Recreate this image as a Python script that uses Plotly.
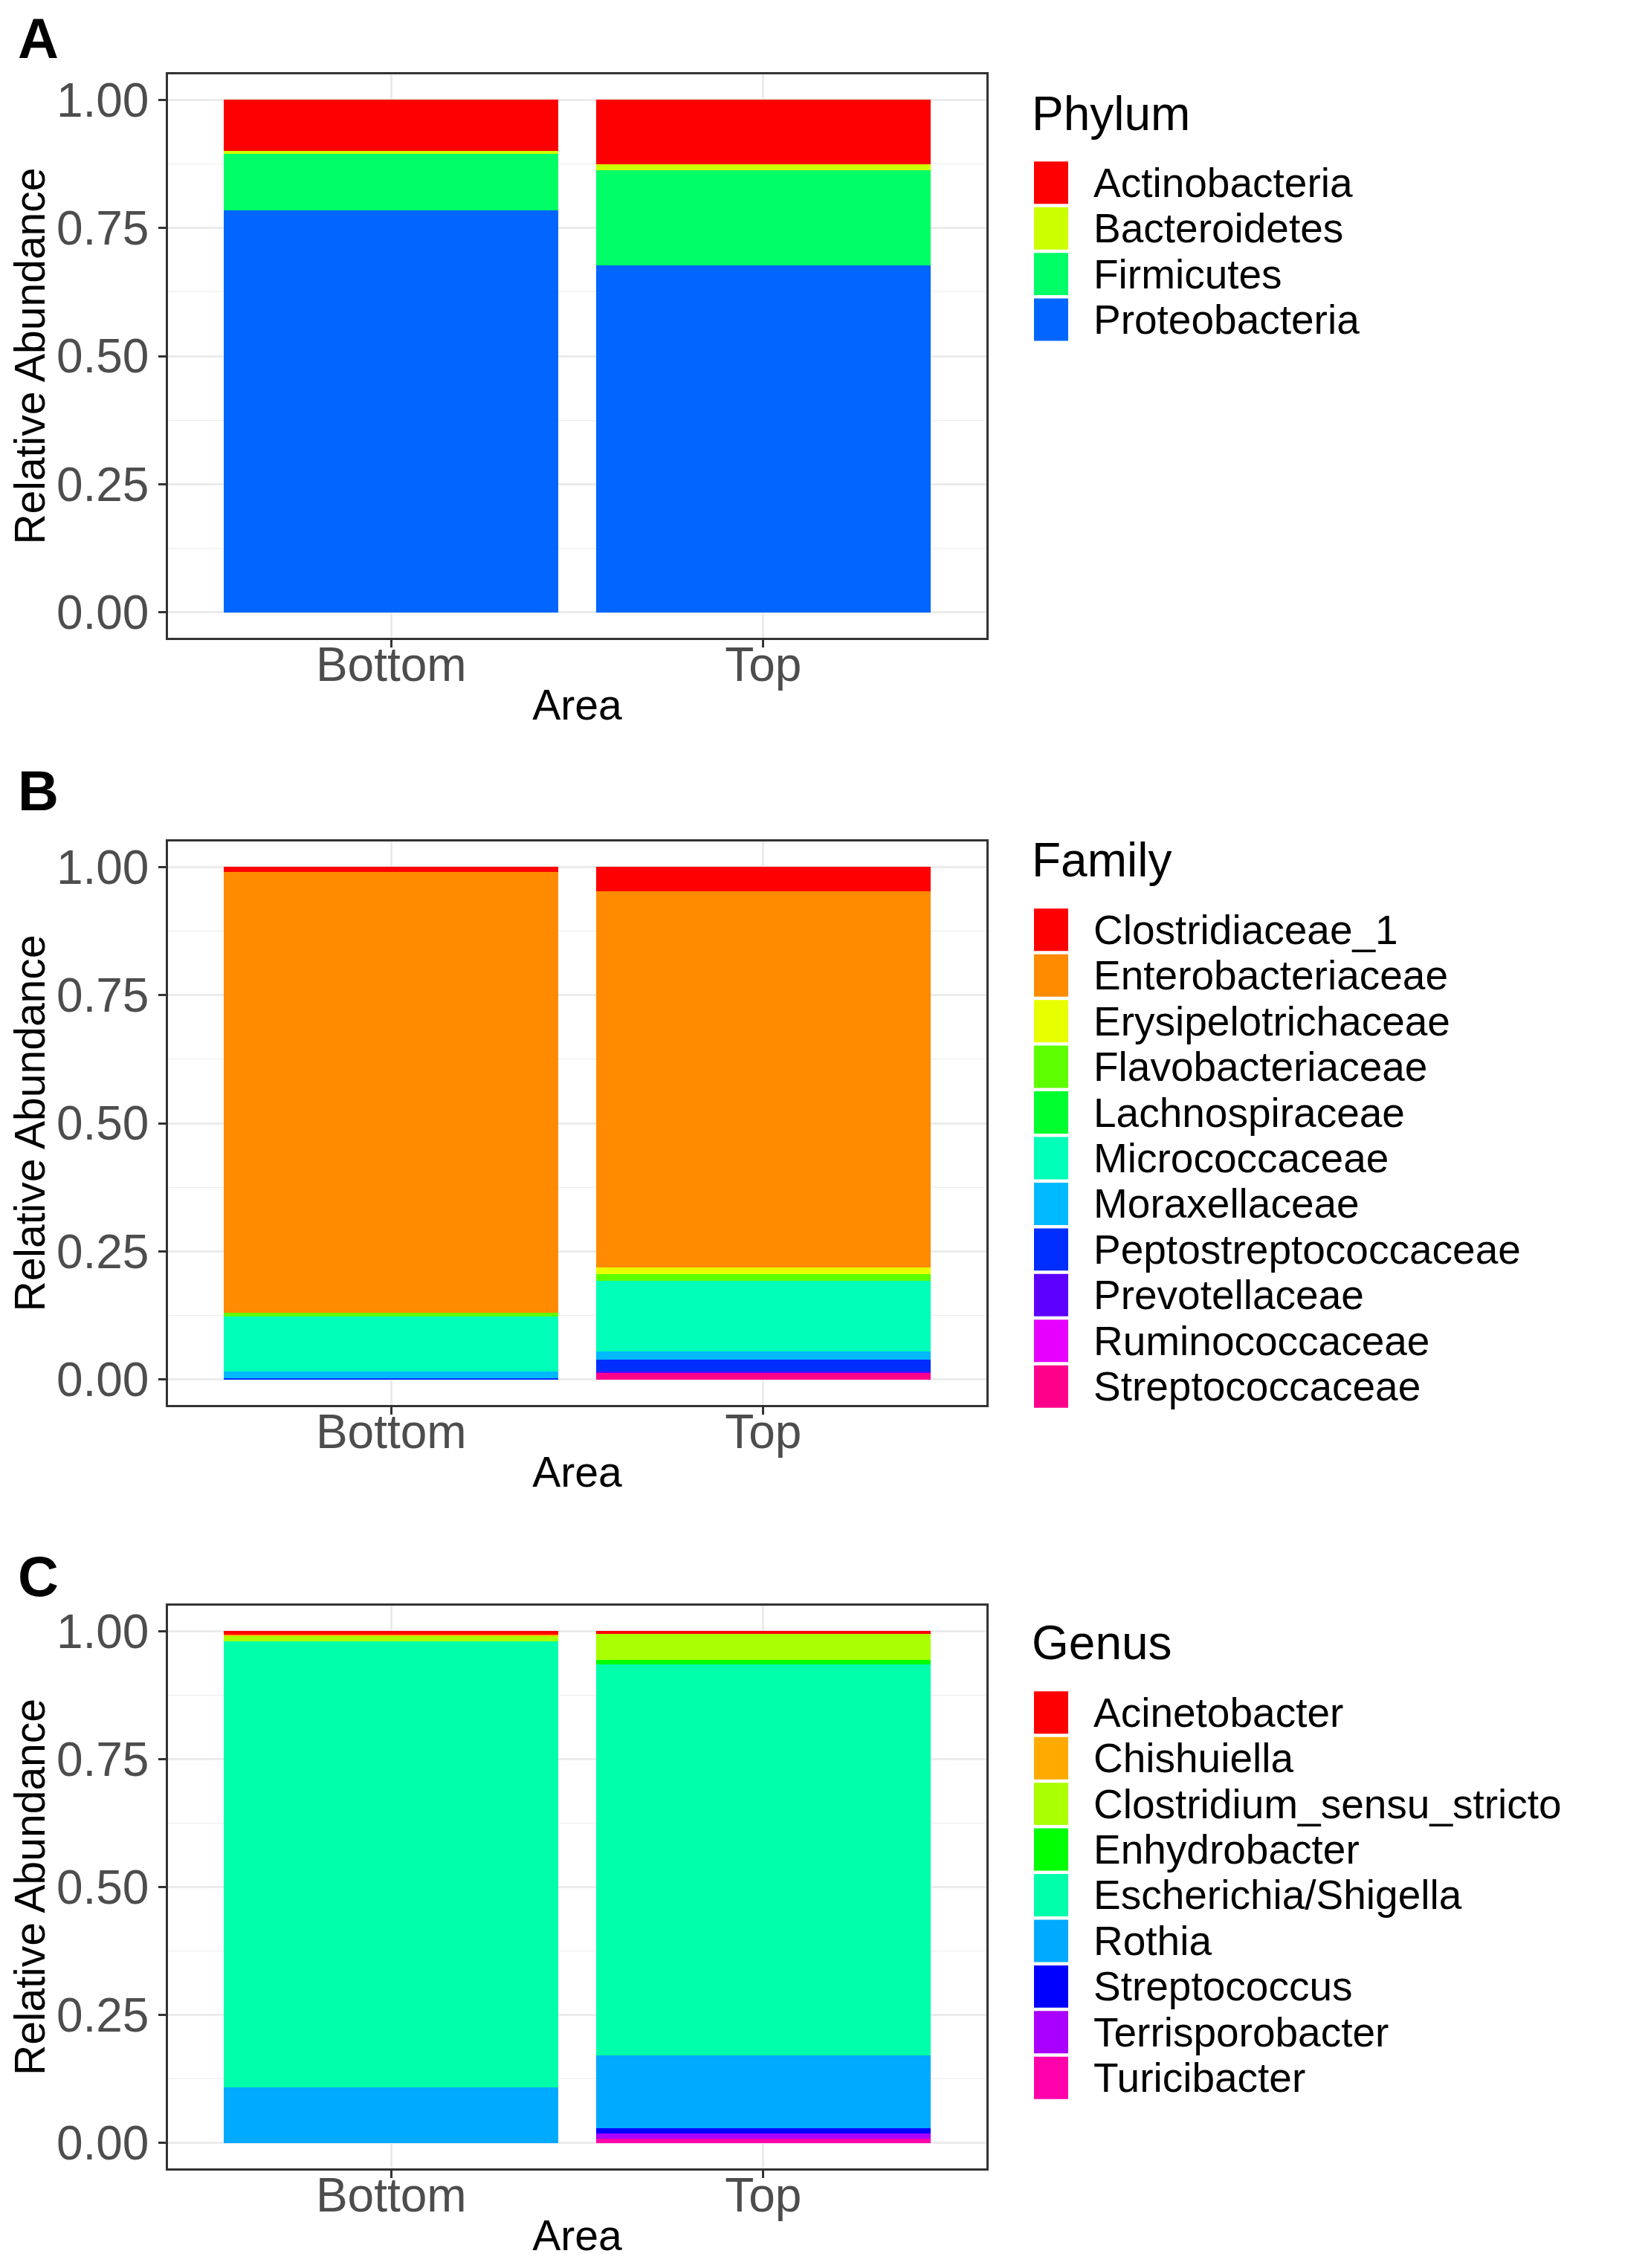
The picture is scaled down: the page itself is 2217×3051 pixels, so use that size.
import plotly.graph_objects as go

# ---------------- data ----------------
areas = ["Bottom", "Top"]

phylum_names = ["Actinobacteria", "Bacteroidetes", "Firmicutes", "Proteobacteria"]
phylum_bottom = [0.100, 0.006, 0.110, 0.784]
phylum_top = [0.125, 0.012, 0.186, 0.677]
phylum_colors = ["#FF0000", "#CCFF00", "#00FF66", "#0066FF"]

family_names = ["Clostridiaceae_1", "Enterobacteriaceae", "Erysipelotrichaceae",
                "Flavobacteriaceae", "Lachnospiraceae", "Micrococcaceae",
                "Moraxellaceae", "Peptostreptococcaceae", "Prevotellaceae",
                "Ruminococcaceae", "Streptococcaceae"]
family_bottom = [0.010, 0.860, 0.000, 0.007, 0.000, 0.107, 0.013, 0.003, 0.000, 0.000, 0.000]
family_top = [0.047, 0.734, 0.013, 0.013, 0.000, 0.138, 0.017, 0.022, 0.003, 0.000, 0.013]
family_colors = ["#FF0000", "#FF8B00", "#E8FF00", "#5DFF00", "#00FF2E", "#00FFB9",
                 "#00B9FF", "#002EFF", "#5D00FF", "#E800FF", "#FF008B"]

genus_names = ["Acinetobacter", "Chishuiella", "Clostridium_sensu_stricto", "Enhydrobacter",
               "Escherichia/Shigella", "Rothia", "Streptococcus", "Terrisporobacter",
               "Turicibacter"]
genus_bottom = [0.007, 0.003, 0.010, 0.000, 0.872, 0.108, 0.000, 0.000, 0.000]
genus_top = [0.005, 0.000, 0.051, 0.009, 0.764, 0.142, 0.010, 0.010, 0.009]
genus_colors = ["#FF0000", "#FFAA00", "#AAFF00", "#00FF00", "#00FFAA", "#00AAFF",
                "#0000FF", "#AA00FF", "#FF00AA"]

y_ticks = [0, 0.25, 0.5, 0.75, 1.0]
y_ticklabels = ["0.00", "0.25", "0.50", "0.75", "1.00"]

panels = [
    ("A", "Phylum", phylum_names, phylum_bottom, phylum_top, phylum_colors),
    ("B", "Family", family_names, family_bottom, family_top, family_colors),
    ("C", "Genus", genus_names, genus_bottom, genus_top, genus_colors),
]

# ---------------- layout helpers ----------------
W, H = 2217, 3051
FONT = "Liberation Sans, Arial, sans-serif"


def px(x):
    return x / W


def py(y):
    return 1 - y / H


frame_x = (218, 1319)
frame_y = [(91, 850), (1124, 1883), (2153, 2911)]
letter_y = [43, 1056, 2114]
legend_title_y = [144, 1149, 2203]
legend_first_y = [237, 1243, 2297]
row_step = 61.5

fig = go.Figure()
shapes = []
annotations = []
layout_axes = {}

for i, (letter, title, names, bottom, top, colors) in enumerate(panels):
    n = i + 1
    xa = "x" if n == 1 else f"x{n}"
    ya = "y" if n == 1 else f"y{n}"
    # ggplot stacks the first level on top -> add in reverse order
    for name, b, t, c in reversed(list(zip(names, bottom, top, colors))):
        fig.add_trace(go.Bar(
            x=areas, y=[b, t], name=name, marker=dict(color=c, line=dict(width=0)),
            xaxis=xa, yaxis=ya, showlegend=False,
            hovertemplate=f"{name}<br>%{{x}}: %{{y:.3f}}<extra></extra>",
        ))

    y0, y1 = frame_y[i]
    layout_axes["xaxis" if n == 1 else f"xaxis{n}"] = dict(
        domain=[px(frame_x[0]), px(frame_x[1])], anchor=ya,
        type="category", range=[-0.6, 1.6],
        showgrid=True, gridcolor="#EBEBEB", gridwidth=2.5,
        showline=True, mirror=True, linecolor="#333333", linewidth=2.5,
        ticks="outside", ticklen=10, tickwidth=2.5, tickcolor="#333333",
        ticklabelstandoff=-32,
        tickfont=dict(family=FONT, size=64, color="#4D4D4D"),
        title=dict(text="Area", font=dict(family=FONT, size=57, color="#000000"), standoff=0),
        zeroline=False, fixedrange=True,
    )
    layout_axes["yaxis" if n == 1 else f"yaxis{n}"] = dict(
        domain=[py(y1), py(y0)], anchor=xa,
        range=[-0.05, 1.05],
        tickvals=y_ticks, ticktext=y_ticklabels,
        showgrid=True, gridcolor="#EBEBEB", gridwidth=2.5,
        minor=dict(dtick=0.125, tick0=0, showgrid=True, gridcolor="#EBEBEB", gridwidth=1.3, ticks=""),
        showline=True, mirror=True, linecolor="#333333", linewidth=2.5,
        ticks="outside", ticklen=10, tickwidth=2.5, tickcolor="#333333",
        tickfont=dict(family=FONT, size=64, color="#4D4D4D"),
        title=dict(text="Relative Abundance", font=dict(family=FONT, size=57, color="#000000"), standoff=18),
        zeroline=False, fixedrange=True,
    )

    # panel letter
    annotations.append(dict(
        text=f"<b>{letter}</b>", x=px(14), y=py(letter_y[i]), xref="paper", yref="paper",
        xanchor="left", yanchor="middle", showarrow=False,
        font=dict(family=FONT, size=76, color="#000000"),
    ))
    # legend title
    annotations.append(dict(
        text=title, x=px(1378), y=py(legend_title_y[i]), xref="paper", yref="paper",
        xanchor="left", yanchor="middle", showarrow=False,
        font=dict(family=FONT, size=64, color="#000000"),
    ))
    # legend keys and labels
    for k, (name, c) in enumerate(zip(names, colors)):
        cy = legend_first_y[i] + k * row_step
        shapes.append(dict(
            type="rect", xref="paper", yref="paper",
            x0=px(1383), x1=px(1429), y0=py(cy + 28.5), y1=py(cy - 28.5),
            fillcolor=c, line=dict(width=0),
        ))
        annotations.append(dict(
            text=name, x=px(1462), y=py(cy), xref="paper", yref="paper",
            xanchor="left", yanchor="middle", showarrow=False, borderpad=0,
            font=dict(family=FONT, size=55, color="#000000"),
        ))

fig.update_layout(
    width=W, height=H,
    margin=dict(l=0, r=0, t=0, b=0),
    paper_bgcolor="#FFFFFF", plot_bgcolor="#FFFFFF",
    barmode="stack", bargap=0.1,
    showlegend=False,
    shapes=shapes, annotations=annotations,
    font=dict(family=FONT),
    **layout_axes,
)

fig.write_html("out.html")
